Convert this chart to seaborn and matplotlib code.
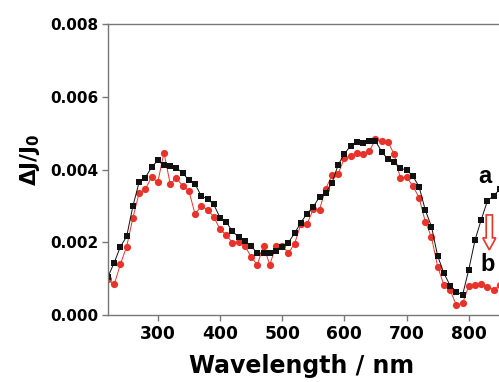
import numpy as np
import pandas as pd
import seaborn as sns
import matplotlib.pyplot as plt

wavelength = list(range(220, 860, 10))

# curve a (black squares)
dj_a = [0.00105, 0.00144, 0.00188, 0.00216, 0.00299, 0.00365, 0.00378, 0.00406,
        0.00425, 0.00411, 0.00410, 0.00405, 0.00390, 0.00371, 0.00360, 0.00327,
        0.00319, 0.00304, 0.00268, 0.00256, 0.00230, 0.00214, 0.00204, 0.00190,
        0.00170, 0.00170, 0.00170, 0.00177, 0.00187, 0.00199, 0.00225, 0.00254,
        0.00279, 0.00297, 0.00325, 0.00336, 0.00363, 0.00413, 0.00443, 0.00465,
        0.00476, 0.00472, 0.00479, 0.00478, 0.00449, 0.00428, 0.00421, 0.00403,
        0.00399, 0.00382, 0.00353, 0.00289, 0.00243, 0.00162, 0.00115, 0.00081,
        0.00064, 0.00055, 0.00125, 0.00206, 0.00262, 0.00314, 0.00328, 0.00346]

# curve b (red circles)
dj_b = [0.00098, 0.00084, 0.00140, 0.00188, 0.00267, 0.00335, 0.00346, 0.00379,
        0.00365, 0.00446, 0.00360, 0.00376, 0.00355, 0.00342, 0.00277, 0.00300,
        0.00289, 0.00270, 0.00236, 0.00220, 0.00199, 0.00202, 0.00190, 0.00160,
        0.00138, 0.00190, 0.00138, 0.00189, 0.00190, 0.00170, 0.00196, 0.00250,
        0.00250, 0.00291, 0.00290, 0.00347, 0.00384, 0.00388, 0.00431, 0.00436,
        0.00446, 0.00442, 0.00450, 0.00483, 0.00478, 0.00476, 0.00442, 0.00376,
        0.00379, 0.00355, 0.00323, 0.00257, 0.00214, 0.00133, 0.00082, 0.00068,
        0.00027, 0.00032, 0.00080, 0.00082, 0.00085, 0.00078, 0.00070, 0.00082]

df = pd.DataFrame({'wl': wavelength, 'a': dj_a, 'b': dj_b})

sns.set_style('ticks')
plt.rcParams['font.family'] = ['DejaVu Sans']
plt.rcParams['mathtext.fontset'] = 'dejavusans'

fig = plt.figure(figsize=(4.99, 3.82), dpi=100)
ax = fig.add_axes([108/499, 67/382, 423/499, 291/382])

sns.lineplot(data=df, x='wl', y='b', ax=ax, color='#e8332b', marker='o',
             markersize=5.2, markeredgewidth=0, linewidth=0.7, errorbar=None)
sns.lineplot(data=df, x='wl', y='a', ax=ax, color='#111111', marker='s',
             markersize=4.3, markeredgewidth=0, linewidth=0.7, errorbar=None)

ax.set_xlim(220, 900)
ax.set_ylim(0, 0.008)
ax.set_xticks([300, 400, 500, 600, 700, 800])
ax.set_yticks([0, 0.002, 0.004, 0.006, 0.008])
ax.set_yticklabels(['0.000', '0.002', '0.004', '0.006', '0.008'])

for s in ['top', 'left', 'bottom', 'right']:
    ax.spines[s].set_color('#777777')
    ax.spines[s].set_linewidth(1.0)
ax.tick_params(axis='both', direction='out', length=4, width=1, color='#777777',
               pad=3, labelcolor='black')
for lab in ax.get_yticklabels():
    lab.set_fontsize(11)
    lab.set_fontweight('bold')
for lab in ax.get_xticklabels():
    lab.set_fontsize(12.3)
    lab.set_fontweight('bold')

ax.set_xlabel('Wavelength / nm', fontsize=17, fontweight='bold', color='black')
ax.set_ylabel(r'ΔJ/J$_\mathbf{0}$', fontsize=15.5, fontweight='bold', color='black')
ax.xaxis.set_label_coords((302 - 108) / 423, (315 - 354) / 291)
ax.yaxis.set_label_coords((42 - 108) / 423, (315 - 160) / 291)

ax.text(826, 0.0038, 'a', fontsize=17, fontweight='bold', ha='center', va='center',
        family='Liberation Sans', color='black')
ax.text(831, 0.0014, 'b', fontsize=17, fontweight='bold', ha='center', va='center',
        family='Liberation Sans', color='black')
ax.arrow(833, 0.00275, 0, -0.00096, width=10, head_width=21, head_length=0.00033,
         length_includes_head=True, fc='white', ec='#e8332b', lw=1.2)

fig.savefig('out.png', dpi=100)
